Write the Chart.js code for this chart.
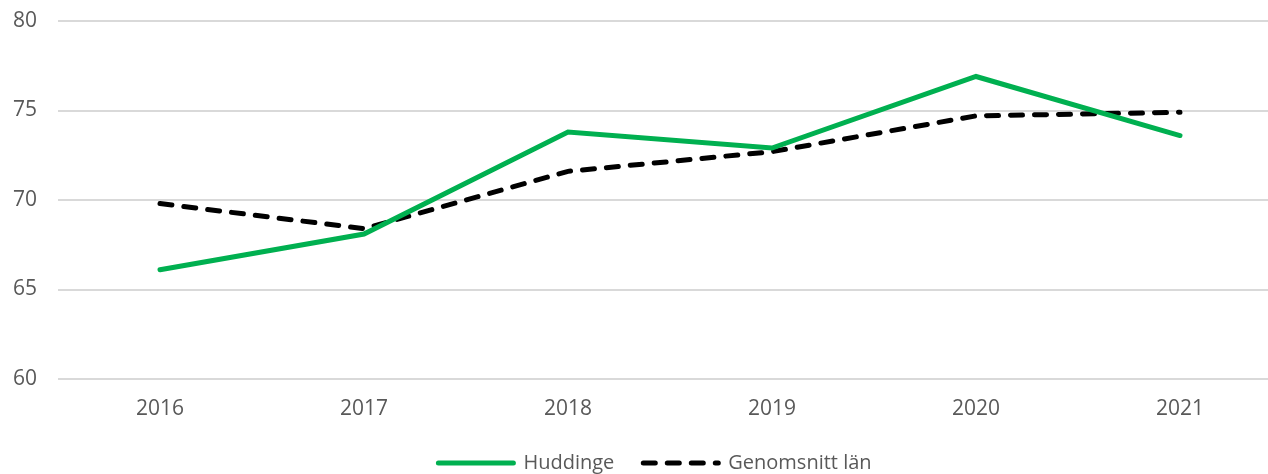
<!DOCTYPE html>
<html>
<head>
<meta charset="utf-8">
<script src="https://cdn.jsdelivr.net/npm/chart.js@4.4.1/dist/chart.umd.min.js"></script>
<style>
  html, body { margin: 0; padding: 0; background: #fff; overflow: hidden; }
  #wrap { position: absolute; left: 0; top: 0; width: 1282px; height: 474px; }
</style>
</head>
<body>
<div id="wrap"><canvas id="chart"></canvas></div>
<script>
const years = ['2016', '2017', '2018', '2019', '2020', '2021'];
const huddinge = [66.1, 68.1, 73.8, 72.9, 76.9, 73.6];
const lanAvg = [69.8, 68.4, 71.6, 72.7, 74.7, 74.9];
const yTicks = [60, 65, 70, 75, 80];

const textColor = '#595959';
const fontFamily = '"Open Sans", "Noto Sans", sans-serif';

// legenden sitter lite till höger om mitten i originalet
const legendShift = {
  id: 'legendShift',
  afterLayout(chart) {
    if (chart.legend) {
      chart.legend.left += 14;
      chart.legend.right += 14;
    }
  }
};

const ctx = document.getElementById('chart');
const chart = new Chart(ctx, {
  type: 'line',
  data: {
    labels: years,
    datasets: [
      {
        label: 'Huddinge',
        data: huddinge,
        borderColor: '#00b050',
        backgroundColor: '#00b050',
        borderWidth: 5,
        borderCapStyle: 'round',
        borderJoinStyle: 'miter',
        pointRadius: 0,
        tension: 0,
        fill: false
      },
      {
        label: 'Genomsnitt län',
        data: lanAvg,
        borderColor: '#000000',
        backgroundColor: '#000000',
        borderWidth: 5,
        borderDash: [12, 12],
        borderCapStyle: 'round',
        pointRadius: 0,
        tension: 0,
        fill: false
      }
    ]
  },
  plugins: [legendShift],
  options: {
    responsive: true,
    maintainAspectRatio: false,
    animation: false,
    layout: { padding: { left: 0, right: 0, top: 21, bottom: -9 } },
    plugins: {
      tooltip: { enabled: false },
      legend: {
        position: 'bottom',
        labels: {
          usePointStyle: true,
          pointStyle: 'line',
          pointStyleWidth: 75,
          boxHeight: 5,
          color: textColor,
          font: { family: fontFamily, size: 20 },
          padding: 29,
          generateLabels: (chart) => {
            return chart.data.datasets.map((ds, i) => ({
              text: ds.label,
              datasetIndex: i,
              strokeStyle: ds.borderColor,
              fillStyle: ds.backgroundColor,
              fontColor: textColor,
              lineWidth: ds.borderWidth,
              lineDash: ds.borderDash || [],
              lineCap: 'round',
              pointStyle: 'line',
              hidden: false
            }));
          }
        }
      }
    },
    scales: {
      x: {
        offset: true,
        border: { display: false },
        grid: { display: false, drawTicks: false },
        afterFit: (axis) => { axis.height = 45; },
        ticks: {
          color: textColor,
          font: { family: fontFamily, size: 21 },
          padding: 17,
          maxRotation: 0
        }
      },
      y: {
        min: 60,
        max: 80,
        afterBuildTicks: (axis) => {
          axis.ticks = yTicks.map(v => ({ value: v }));
        },
        afterFit: (axis) => {
          axis.width = 58;
          axis.paddingTop = 0;
          axis.paddingBottom = 0;
        },
        border: { display: false },
        grid: { color: '#d9d9d9', lineWidth: 2, drawTicks: false },
        ticks: {
          color: textColor,
          font: { family: fontFamily, size: 21 },
          padding: 21
        }
      }
    }
  }
});
</script>
</body>
</html>
